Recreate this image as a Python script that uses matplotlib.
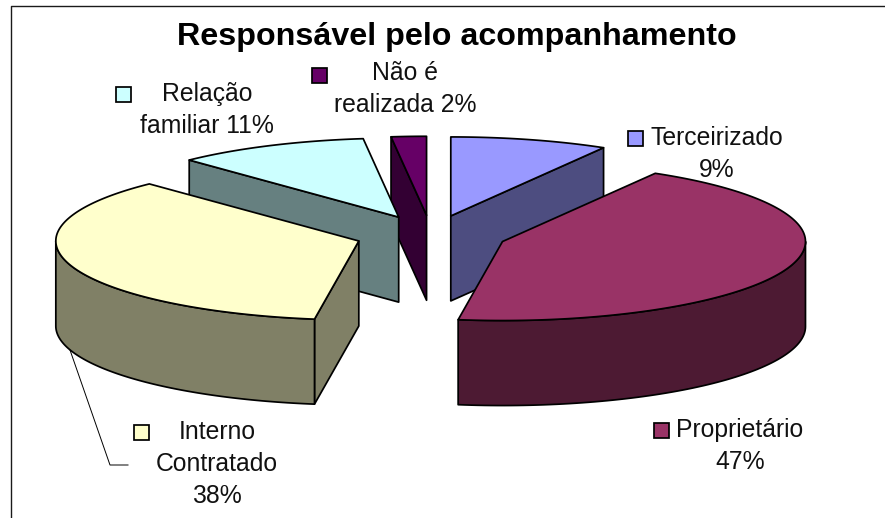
"""Exploded 3D-look pie: Responsável pelo acompanhamento."""
import matplotlib

matplotlib.use("Agg")
import matplotlib.pyplot as plt
import numpy as np
from matplotlib.patches import Polygon, Rectangle

plt.rcParams["font.family"] = ["Liberation Sans", "DejaVu Sans"]

TITLE = "Responsável pelo acompanhamento"
CATEGORIES = ["Terceirizado", "Proprietário", "Interno Contratado", "Relação familiar", "Não é realizada"]
VALUES = [9, 47, 38, 11, 2]
LABEL_FORMATS = ["Terceirizado\n{}%", "Proprietário\n{}%", "Interno\nContratado\n{}%", "Relação\nfamiliar {}%", "Não é\nrealizada {}%"]

TOP_COLORS = ["#9999FF", "#993366", "#FFFFCC", "#CCFFFF", "#660066"]
SIDE_COLORS = ["#4D4D80", "#4D1A33", "#808066", "#668080", "#330033"]

# layout, in pixels of the 885x518 picture
CX, CY = 431, 235
RX, RY = 303, 79
DEPTH = 85
EXPLODE = 0.25
LABEL_XY = [(717, 145), (740, 437), (217, 439), (207, 101), (405, 80)]
KEY_XY = [(628, 131), (654, 423), (134, 425), (116, 87), (312, 68)]
KEY_SIZE = 15
LINE_STEP = 32
DRAW_ORDER = [0, 4, 3, 2, 1]


def rim(theta, apex, drop=0.0):
    """Points on the slice rim, theta in radians clockwise from 12 o'clock."""
    return np.column_stack([apex[0] + RX * np.sin(theta), apex[1] - RY * np.cos(theta) + drop])


def face(ax, points, color):
    ax.add_patch(Polygon(points, closed=True, facecolor=color, edgecolor="black", linewidth=1.25, joinstyle="round"))


def draw_slice(ax, start, end, top_color, side_color):
    mid = (start + end) / 2
    apex = (CX + EXPLODE * RX * np.sin(mid), CY - EXPLODE * RY * np.cos(mid))

    # cut faces that look towards the viewer
    if np.sin(start) < 0:
        edge = rim(np.array([start]), apex)[0]
        face(ax, [apex, edge, edge + [0, DEPTH], (apex[0], apex[1] + DEPTH)], side_color)
    if np.sin(end) > 0:
        edge = rim(np.array([end]), apex)[0]
        face(ax, [apex, edge, edge + [0, DEPTH], (apex[0], apex[1] + DEPTH)], side_color)

    # outer wall, only the front half of the circle
    low, high = max(start, np.pi / 2), min(end, 3 * np.pi / 2)
    if low < high:
        arc = np.linspace(low, high, 80)
        wall = np.vstack([rim(arc, apex), rim(arc[::-1], apex, DEPTH)])
        face(ax, wall, side_color)

    arc = np.linspace(start, end, 160)
    face(ax, np.vstack([[apex], rim(arc, apex)]), top_color)


def main():
    fig = plt.figure(figsize=(8.85, 5.18), dpi=100)
    ax = fig.add_axes([0, 0, 1, 1])
    ax.set_xlim(0, 885)
    ax.set_ylim(518, 0)
    ax.axis("off")

    # chart frame runs off the picture on the right and at the bottom
    ax.plot([10.5, 10.5, 885], [518, 5.5, 5.5], color="#1a1a1a", linewidth=1.0)

    edges = np.concatenate([[0], np.cumsum(VALUES)]) / np.sum(VALUES) * 2 * np.pi
    for i in DRAW_ORDER:
        draw_slice(ax, edges[i], edges[i + 1], TOP_COLORS[i], SIDE_COLORS[i])

    # leader line of the Interno Contratado label
    ax.plot([70, 110, 128], [350, 465, 465], color="black", linewidth=0.7)

    for i, name in enumerate(CATEGORIES):
        lines = LABEL_FORMATS[i].format(VALUES[i]).split("\n")
        x, y = LABEL_XY[i]
        for k, line in enumerate(lines):
            ax.text(x, y + k * LINE_STEP, line, ha="center", va="baseline", fontsize=17.8, color="#111111")
        kx, ky = KEY_XY[i]
        ax.add_patch(Rectangle((kx, ky), KEY_SIZE, KEY_SIZE, facecolor=TOP_COLORS[i], edgecolor="black", linewidth=1.25))

    ax.text(457, 45, TITLE, ha="center", va="baseline", fontsize=23.2, fontweight="bold", color="black")

    fig.savefig("out.png", dpi=100)
    plt.close(fig)


if __name__ == "__main__":
    main()
